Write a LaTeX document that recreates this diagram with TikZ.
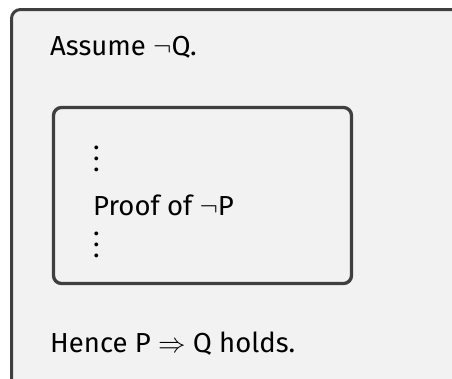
\documentclass[tikz,border=0pt]{standalone}
\usepackage{fix-cm}
\usepackage{fontspec}
\setmainfont{Fira Sans}
\definecolor{boxfill}{HTML}{F2F2F2}
\definecolor{boxline}{HTML}{3F3F3F}
\newcommand{\tallvdots}{\vbox{\baselineskip=10.8pt\lineskiplimit=0pt\lineskip=0pt\hbox{.}\hbox{.}\hbox{.}}}
\tikzset{
  outerbox/.style={draw=boxline, line width=3pt, fill=boxfill, rounded corners=9pt},
  innerbox/.style={draw=boxline, line width=3.3pt, rounded corners=8pt},
  txt/.style={anchor=base west, inner sep=0pt, font=\fontsize{27.5}{32}\selectfont},
}
\begin{document}
\begin{tikzpicture}[x=1pt,y=-1pt]
\useasboundingbox (0,0) rectangle (452,378);
\begin{scope}
\clip (0,0) rectangle (452,378);
\draw[outerbox] (11.5,9.5) rectangle (480,400);
\end{scope}
\draw[innerbox] (53.5,107.5) rectangle (351.5,283.5);
\node[txt] (assume) at (50,55) {Assume $\neg$Q.};
\node[txt] (dotsa) at (93,171.5) {\tallvdots};
\node[txt] (proof) at (93,215) {Proof of $\neg$P};
\node[txt] (dotsb) at (93,257.5) {\tallvdots};
\node[txt] (hence) at (50,352) {Hence P $\Rightarrow$ Q holds.};
\end{tikzpicture}
\end{document}
